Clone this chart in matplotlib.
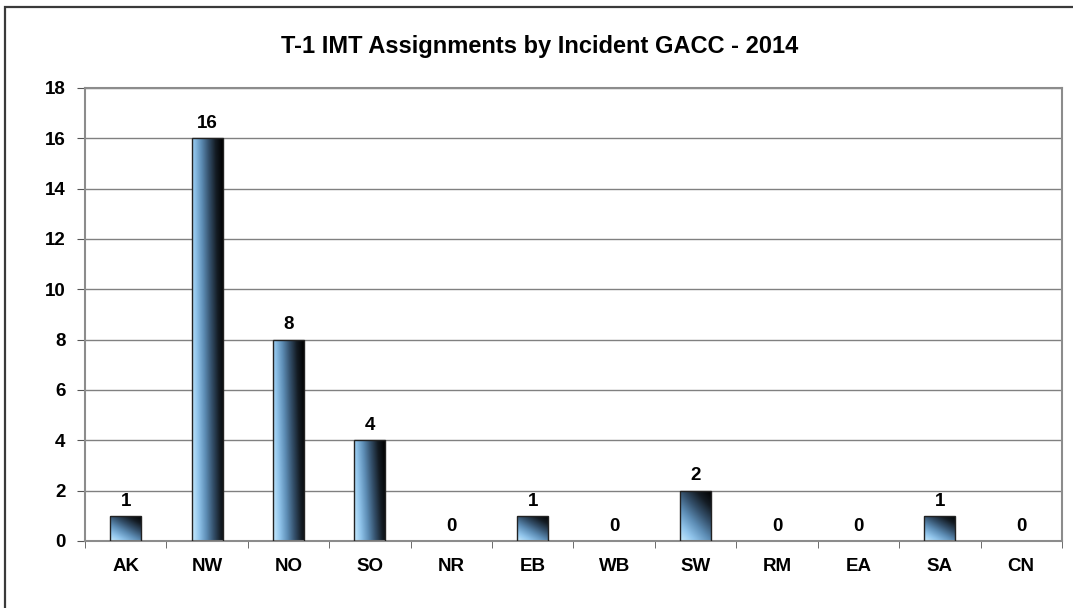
import numpy as np
import matplotlib.pyplot as plt
from matplotlib.colors import LinearSegmentedColormap
from matplotlib.patches import Rectangle

plt.rcParams['font.family'] = ['Liberation Sans', 'DejaVu Sans']

regions = ["AK", "NW", "NO", "SO", "NR", "EB", "WB", "SW", "RM", "EA", "SA", "CN"]
assignments = [1, 16, 8, 4, 0, 1, 0, 2, 0, 0, 1, 0]

fig = plt.figure(figsize=(10.73, 6.08), dpi=100)
ax = fig.add_axes([0.0792, 0.1102, 0.9105, 0.7451])

# outer frame of the picture (only top and left edges are visible)
fig.patches.append(Rectangle((5 / 1073, -0.1), 1.2, 1 - 7 / 608 + 0.1,
                             transform=fig.transFigure, fill=False,
                             edgecolor='#3a3a3a', linewidth=1.6, zorder=0))

# metallic blue gradient for the bars
shine = LinearSegmentedColormap.from_list(
    'shine', ['#c8ecff', '#8fc3ea', '#5d8db5', '#34506b', '#141c24', '#000000'])

x = np.arange(len(regions))
width = 0.38
bars = ax.bar(x, assignments, width, color='none', edgecolor='#222222',
              linewidth=1.0, zorder=3)

u = np.linspace(0, 1, 60)
v = np.linspace(0, 1, 120)
U, V = np.meshgrid(u, v)
for bar in bars:
    h = bar.get_height()
    x0 = bar.get_x()
    if h == 0:
        bar.set_linewidth(0)
        ax.text(x0 + width / 2, 0.25, '0', ha='center', va='bottom',
                fontsize=13.5, fontweight='bold')
        continue
    # diagonal sheen is stronger on short bars
    tilt = 0.15 if h > 3 else 0.6
    grad = np.clip(U * (1 - tilt) + V * tilt, 0, 1)
    im = ax.imshow(grad, cmap=shine, extent=[x0, x0 + width, 0, h],
                   origin='lower', aspect='auto', zorder=2, interpolation='bilinear')
    im.set_clip_path(bar)
    ax.text(x0 + width / 2, h + 0.25, str(int(h)), ha='center', va='bottom',
            fontsize=13.5, fontweight='bold')

ax.set_xlim(-0.5, len(regions) - 0.5)
ax.set_ylim(0, 18)
ax.set_yticks(range(0, 19, 2))
ax.set_xticks(x)
ax.set_xticklabels(regions)
ax.set_xticks(np.arange(-0.5, len(regions), 1), minor=True)
ax.tick_params(axis='x', which='major', length=0, pad=12, labelsize=13.5)
ax.tick_params(axis='x', which='minor', length=5, color='#555555', direction='out')
ax.tick_params(axis='y', length=6, color='#555555', pad=8, labelsize=13.5)
for lab in ax.get_xticklabels() + ax.get_yticklabels():
    lab.set_fontweight('bold')

ax.yaxis.grid(True, color='#808080', linewidth=1.0, zorder=0)
ax.set_axisbelow(True)
for side in ['top', 'right', 'bottom', 'left']:
    ax.spines[side].set_color('#8c8c8c')
    ax.spines[side].set_linewidth(1.5)

fig.text(0.503, 1 - 46 / 608, 'T-1 IMT Assignments by Incident GACC - 2014',
         ha='center', va='center', fontsize=17, fontweight='bold')

fig.savefig('out.png', dpi=100)
